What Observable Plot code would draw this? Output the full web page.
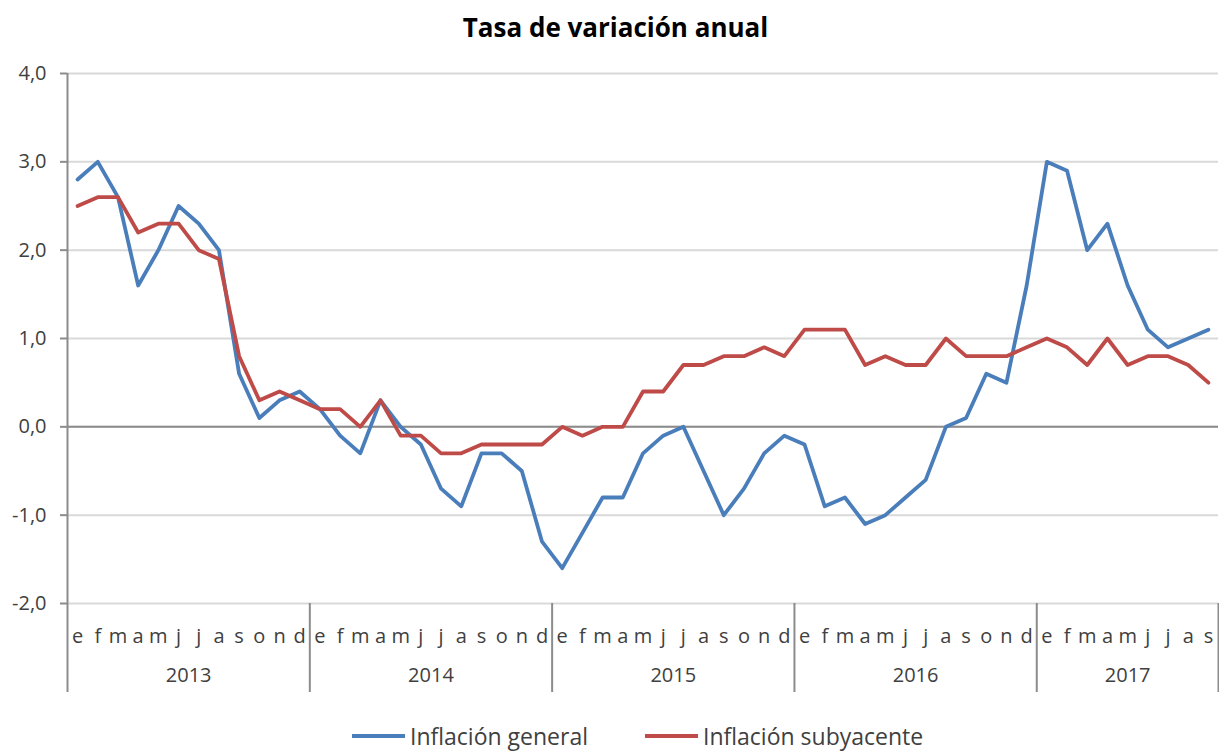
<!DOCTYPE html>
<html><head><meta charset="utf-8">
<script src="https://cdn.jsdelivr.net/npm/d3@7"></script>
<script src="https://cdn.jsdelivr.net/npm/@observablehq/plot@0.6"></script>
<style>
body{margin:0;background:#fff;font-family:"Open Sans",sans-serif;}
#title{height:55px;line-height:54px;text-align:center;font-weight:bold;font-size:26px;color:#000;padding-left:12px;box-sizing:border-box;}
#legend{position:relative;height:53px;font-size:23px;color:#404040;}
.item{position:absolute;top:22px;display:flex;align-items:center;height:28px;line-height:28px;}
.sw{width:53px;height:4px;margin-right:5px;}
svg{display:block;}
</style></head><body>
<div id="title">Tasa de variación anual</div>
<div id="chart"></div>
<div id="legend"></div>
<script>
const monthLetters = ["e","f","m","a","m","j","j","a","s","o","n","d"];
const years = [2013, 2014, 2015, 2016, 2017];
const seriesNames = ["Inflación general", "Inflación subyacente"];
const seriesColors = ["#4a7ebb", "#be4b48"];
const yTicks = [-2, -1, 0, 1, 2, 3, 4];
const general = [
  2.8, 3.0, 2.6, 1.6, 2.0, 2.5, 2.3, 2.0, 0.6, 0.1, 0.3, 0.4,
  0.2, -0.1, -0.3, 0.3, 0.0, -0.2, -0.7, -0.9, -0.3, -0.3, -0.5, -1.3,
  -1.6, -1.2, -0.8, -0.8, -0.3, -0.1, 0.0, -0.5, -1.0, -0.7, -0.3, -0.1,
  -0.2, -0.9, -0.8, -1.1, -1.0, -0.8, -0.6, 0.0, 0.1, 0.6, 0.5, 1.6,
  3.0, 2.9, 2.0, 2.3, 1.6, 1.1, 0.9, 1.0, 1.1
];
const subyacente = [
  2.5, 2.6, 2.6, 2.2, 2.3, 2.3, 2.0, 1.9, 0.8, 0.3, 0.4, 0.3,
  0.2, 0.2, 0.0, 0.3, -0.1, -0.1, -0.3, -0.3, -0.2, -0.2, -0.2, -0.2,
  0.0, -0.1, 0.0, 0.0, 0.4, 0.4, 0.7, 0.7, 0.8, 0.8, 0.9, 0.8,
  1.1, 1.1, 1.1, 0.7, 0.8, 0.7, 0.7, 1.0, 0.8, 0.8, 0.8, 0.9,
  1.0, 0.9, 0.7, 1.0, 0.7, 0.8, 0.8, 0.7, 0.5
];

const n = general.length;
const rows = [];
general.forEach((v, i) => rows.push({i: i + 0.5, v, s: seriesNames[0]}));
subyacente.forEach((v, i) => rows.push({i: i + 0.5, v, s: seriesNames[1]}));
const monthTicks = d3.range(n).map(i => i + 0.5);
const bounds = years.map((y, k) => k * 12).concat([n]);
const yearRows = years.map((y, k) => ({year: String(y), x: (bounds[k] + bounds[k + 1]) / 2}));
const axisCol = "#8c8c8c";

const chart = Plot.plot({
  width: 1219, height: 645,
  marginTop: 18, marginBottom: 97, marginLeft: 67, marginRight: 1,
  x: {domain: [0, n], axis: null},
  y: {domain: [-2, 4], axis: null},
  color: {domain: seriesNames, range: seriesColors},
  style: {fontFamily: "Open Sans", fontSize: "20px", color: "#404040", background: "#fff"},
  marks: [
    Plot.gridY(yTicks, {stroke: "#d9d9d9", strokeOpacity: 1, strokeWidth: 2}),
    Plot.ruleY([0], {stroke: axisCol, strokeWidth: 2}),
    Plot.axisY(yTicks, {tickSize: 7, tickPadding: 14, stroke: axisCol, strokeWidth: 2, fontSize: 20, label: null,
      tickFormat: d => d.toFixed(1).replace(".", ",")}),
    Plot.ruleX([0], {stroke: axisCol, strokeWidth: 2}),
    Plot.axisX(bounds, {tickSize: 89, tickFormat: () => "", stroke: axisCol, strokeWidth: 2, label: null}),
    Plot.axisX(monthTicks, {tickSize: 0, tickPadding: 25, fontSize: 20, label: null,
      tickFormat: d => monthLetters[Math.floor(d) % 12]}),
    Plot.text(yearRows, {x: "x", text: "year", frameAnchor: "bottom", dy: 78, fontSize: 20, fill: "#404040"}),
    Plot.line(rows, {x: "i", y: "v", z: "s", stroke: "s", strokeWidth: 3.8})
  ]
});
document.getElementById("chart").append(chart);

const lefts = [352, 645];
const leg = document.getElementById("legend");
seriesNames.forEach((name, k) => {
  const it = document.createElement("div");
  it.className = "item";
  it.style.left = lefts[k] + "px";
  it.innerHTML = `<span class="sw" style="background:${seriesColors[k]}"></span><span>${name}</span>`;
  leg.append(it);
});
</script>
</body></html>
